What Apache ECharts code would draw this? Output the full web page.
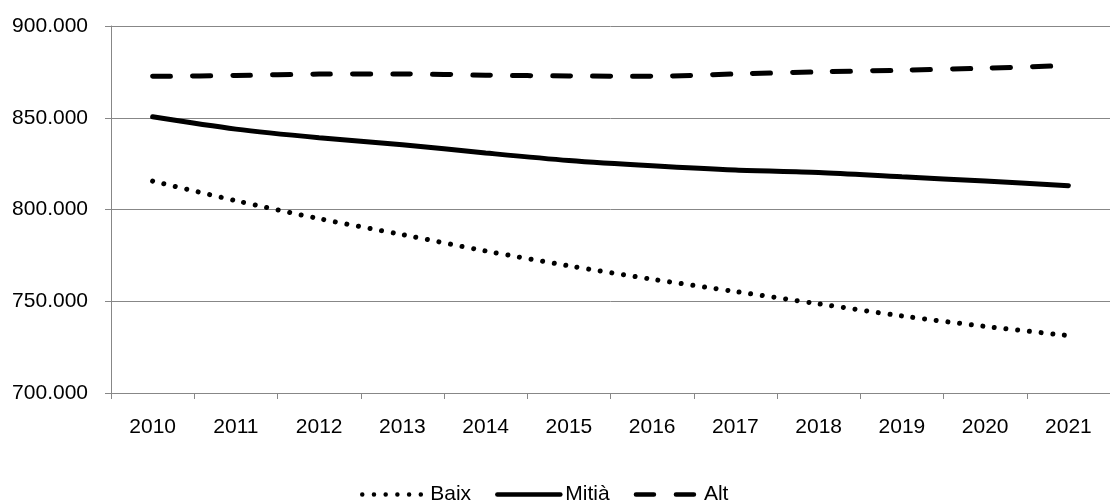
<!DOCTYPE html>
<html>
<head>
<meta charset="utf-8">
<script src="https://cdn.jsdelivr.net/npm/echarts@6/dist/echarts.min.js"></script>
<style>
html,body{margin:0;padding:0;background:#fff;}
#chart{width:1110px;height:500px;}
</style>
</head>
<body>
<div id="chart"></div>
<script>
const years = ['2010','2011','2012','2013','2014','2015','2016','2017','2018','2019','2020','2021'];
const baix  = [815500, 804800, 795000, 786300, 777400, 769300, 762000, 755300, 748600, 742000, 736300, 731300];
const mitja = [850500, 843800, 839100, 835300, 830800, 826700, 823800, 821500, 820200, 817800, 815500, 813000];
const alt   = [872600, 873000, 873800, 873900, 873200, 872800, 872600, 873900, 875000, 875900, 877000, 878500];
const yTicks = { min: 700000, max: 900000, step: 50000 };

function fmt(v){
  return String(Math.round(v)).replace(/\B(?=(\d{3})+(?!\d))/g, '.');
}
const FONT = 'Liberation Sans, Arial, sans-serif';
const GRID = '#878787';

const chart = echarts.init(document.getElementById('chart'), null, {renderer:'canvas'});
chart.setOption({
  backgroundColor: '#ffffff',
  animation: false,
  grid: { left: 111, right: -13, top: 26, bottom: 107, containLabel: false },
  legend: {
    left: 355, top: 479,
    itemWidth: 63, itemHeight: 22, itemGap: 24,
    itemStyle: { opacity: 0 },
    lineStyle: { width: 4.5 },
    textStyle: { fontFamily: FONT, fontSize: 21, color: '#000' },
    data: ['Baix','Mitjà','Alt']
  },
  xAxis: {
    type: 'category',
    data: years,
    boundaryGap: true,
    axisLine: { show: true, lineStyle: { color: GRID, width: 1 } },
    axisTick: { show: true, length: 6, inside: false, alignWithLabel: false, lineStyle: { color: GRID } },
    axisLabel: { margin: 24, fontFamily: FONT, fontSize: 21, color: '#000' },
    splitLine: { show: false }
  },
  yAxis: {
    type: 'value',
    min: yTicks.min, max: yTicks.max, interval: yTicks.step,
    axisLine: { show: true, lineStyle: { color: GRID, width: 1 } },
    axisTick: { show: true, length: 6, inside: false, lineStyle: { color: GRID } },
    axisLabel: { margin: 23, fontFamily: FONT, fontSize: 21, color: '#000', formatter: fmt },
    splitLine: { show: true, lineStyle: { color: GRID, width: 1 } }
  },
  series: [
    { name: 'Baix', type: 'line', data: baix, symbol: 'none', smooth: 0.3,
      lineStyle: { color: '#000', width: 5, type: [0.01, 11.7], cap: 'round' },
      itemStyle: { color: '#000' } },
    { name: 'Mitjà', type: 'line', data: mitja, symbol: 'none', smooth: 0.3,
      lineStyle: { color: '#000', width: 5, type: 'solid', cap: 'round' },
      itemStyle: { color: '#000' } },
    { name: 'Alt', type: 'line', data: alt, symbol: 'none', smooth: 0.3,
      lineStyle: { color: '#000', width: 5, type: [18, 22], cap: 'round' },
      itemStyle: { color: '#000' } }
  ]
});
</script>
</body>
</html>
